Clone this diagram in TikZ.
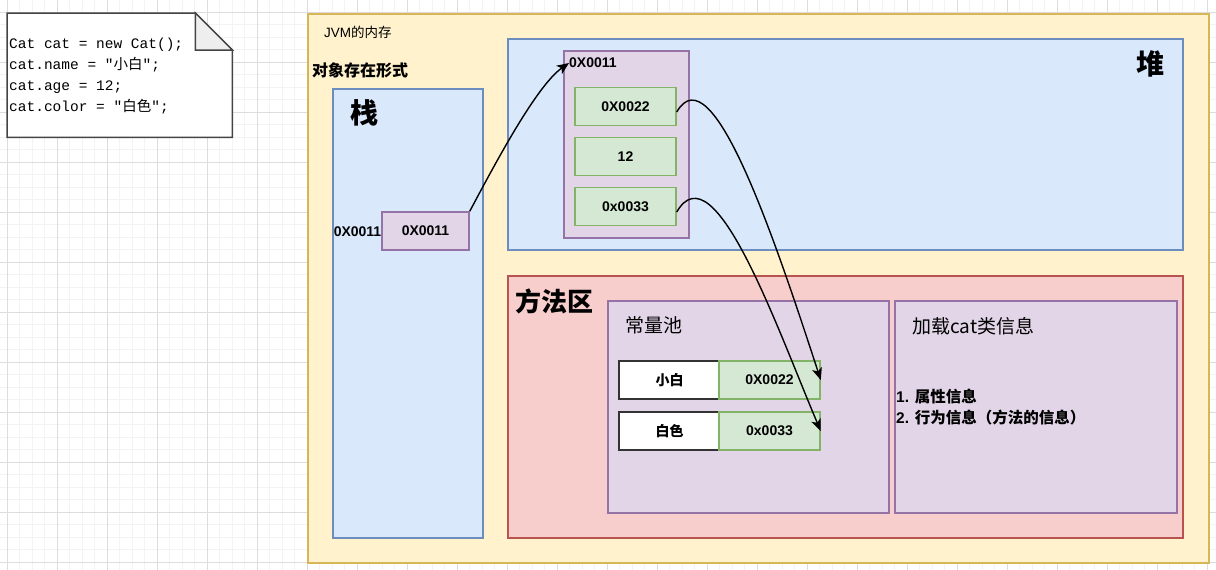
\documentclass[tikz,border=0pt]{standalone}
\usepackage{fontspec}
\setmainfont{Liberation Sans}
\newfontfamily\cjk{Noto Sans CJK SC}
\newfontfamily\codefont{Liberation Mono}
\usepackage{tikz}
\usetikzlibrary{arrows.meta}
\definecolor{jvmfill}{HTML}{FFF2CC}
\definecolor{jvmline}{HTML}{D6B656}
\definecolor{bluefill}{HTML}{DAE8FC}
\definecolor{blueline}{HTML}{6C8EBF}
\definecolor{purplefill}{HTML}{E1D5E7}
\definecolor{purpleline}{HTML}{9673A6}
\definecolor{greenfill}{HTML}{D5E8D4}
\definecolor{greenline}{HTML}{82B366}
\definecolor{redfill}{HTML}{F8CECC}
\definecolor{redline}{HTML}{B85450}
\definecolor{gridmajor}{HTML}{DDDDDD}
\definecolor{gridminor}{HTML}{F3F3F3}
\definecolor{noteline}{HTML}{444444}
\definecolor{foldfill}{HTML}{EEEEEE}
\tikzstyle{gridthin} = [draw=gridminor, line width=0.8pt]
\tikzstyle{gridthick} = [draw=gridmajor, line width=0.8pt]
\tikzstyle{area} = [line width=1.5pt, anchor=north west, inner sep=0pt]
\tikzstyle{jvmbox} = [area, draw=jvmline, fill=jvmfill]
\tikzstyle{bluebox} = [area, draw=blueline, fill=bluefill]
\tikzstyle{redbox} = [area, draw=redline, fill=redfill]
\tikzstyle{purplebox} = [area, draw=purpleline, fill=purplefill]
\tikzstyle{cell} = [line width=1.5pt, minimum width=101pt, minimum height=38pt, inner sep=0pt, font=\bfseries\fontsize{14}{16}\selectfont]
\tikzstyle{greencell} = [cell, draw=greenline, fill=greenfill]
\tikzstyle{whitecell} = [cell, draw=black!80, fill=white]
\tikzstyle{purplecell} = [cell, draw=purpleline, fill=purplefill, minimum width=87pt]
\tikzstyle{addr} = [inner sep=0pt, font=\bfseries\fontsize{14}{16}\selectfont]
\tikzstyle{bigtitle} = [inner sep=0pt, font=\cjk\bfseries\fontsize{28}{30}\selectfont]
\tikzstyle{subtitle} = [anchor=west, inner sep=0pt, font=\cjk\fontsize{19}{21}\selectfont]
\tikzstyle{ptr} = [line width=1.4pt, -{Stealth[length=12pt,width=10pt,inset=3pt]}]

\begin{document}
\begin{tikzpicture}[x=1pt, y=-1pt, node distance=50pt]
		\useasboundingbox (0,0) rectangle (1216,570);
		\foreach \i in {0,...,98} \draw [gridthin] ({-5.5+12.5*\i},0) -- ++(0,570);
		\foreach \i in {0,...,46} \draw [gridthin] (0,{-0.5+12.5*\i}) -- ++(1216,0);
		\foreach \i in {0,...,24} \draw [gridthick] ({7+50*\i},0) -- ++(0,570);
		\foreach \i in {0,...,11} \draw [gridthick] (0,{12+50*\i}) -- ++(1216,0);
		\node (note) [anchor=north west, inner sep=0pt, minimum width=225pt, minimum height=124pt] at (7,13) {};
		\draw [draw=noteline, fill=white, line width=1.5pt] (note.north west) -- ([xshift=-37pt]note.north east) -- ([yshift=-37pt]note.north east) -- (note.south east) -- (note.south west) -- cycle;
		\draw [draw=noteline, fill=foldfill, line width=1.5pt] ([xshift=-37pt]note.north east) -- ([xshift=-37pt, yshift=-37pt]note.north east) -- ([yshift=-37pt]note.north east) -- cycle;
		\node (code) [anchor=west, align=left, inner sep=0pt, font=\codefont\fontsize{14.5}{21}\selectfont] at (9,76) {Cat cat = new Cat();\\cat.name = "{\cjk 小白}";\\cat.age = 12;\\cat.color = "{\cjk 白色}";};
		\node (jvm) [jvmbox, minimum width=901pt, minimum height=549pt] at (307,13) {};
		\node (jvmname) [anchor=west, inner sep=0pt, font=\fontsize{13.5}{15}\selectfont] at (324,32) {JVM{\cjk 的内存}};
		\node (form) [anchor=west, inner sep=0pt, font=\cjk\bfseries\fontsize{16}{18}\selectfont] at (312,70) {对象存在形式};
		\node (stack) [bluebox, minimum width=150pt, minimum height=449pt] at (332,88) {};
		\node (stackname) [bigtitle] at (364,113) {栈};
		\node (stackref) [purplecell] at (425.5,231) {0X0011};
		\node (stackaddr) [addr, left of=stackref, xshift=-18pt, yshift=-1pt] {0X0011};
		\node (heap) [bluebox, minimum width=675pt, minimum height=211pt] at (507,38) {};
		\node (heapname) [bigtitle] at (1150.5,64) {堆};
		\node (obj) [purplebox, minimum width=125pt, minimum height=187pt] at (563,50) {};
		\node (objaddr) [addr, anchor=west] at (569,63) {0X0011};
		\node (h1) [greencell] at (625.5,106.5) {0X0022};
		\node (h2) [greencell, below of=h1] {12};
		\node (h3) [greencell, below of=h2] {0x0033};
		\node (method) [redbox, minimum width=675pt, minimum height=262pt] at (507,275) {};
		\node (methodname) [anchor=west, inner sep=0pt, font=\cjk\bfseries\fontsize{26}{28}\selectfont] at (515,301) {方法区};
		\node (pool) [purplebox, minimum width=281pt, minimum height=212pt] at (607,300) {};
		\node (poolname) [subtitle] at (625,325) {常量池};
		\node (p1k) [whitecell] at (669.5,380) {\cjk 小白};
		\node (p1v) [greencell, right of=p1k, xshift=50pt] {0X0022};
		\node (p2k) [whitecell, below of=p1k, yshift=-1pt] {\cjk 白色};
		\node (p2v) [greencell, right of=p2k, xshift=50pt] {0x0033};
		\node (cls) [purplebox, minimum width=282pt, minimum height=212pt] at (894,300) {};
		\node (clsname) [subtitle] at (912,326) {加载cat类信息};
		\node (clsinfo) [anchor=west, align=left, inner sep=0pt, font=\cjk\bfseries\fontsize{15.5}{21}\selectfont] at (896,407) {{\rmfamily 1. }属性信息\\{\rmfamily 2. }行为信息（方法的信息）};
		\draw [ptr] (stackref.north east) .. controls +(23.5,-44) and +(-33,23) .. (objaddr.west);
		\draw [ptr] ([yshift=-5.5pt]h1.east) .. controls +(35,-61) and +(-46.5,-142.5) .. (p1v.east);
		\draw [ptr] ([yshift=-5.5pt]h3.east) .. controls +(37.5,-65) and +(-43,-101) .. (p2v.east);
\end{tikzpicture}
\end{document}
